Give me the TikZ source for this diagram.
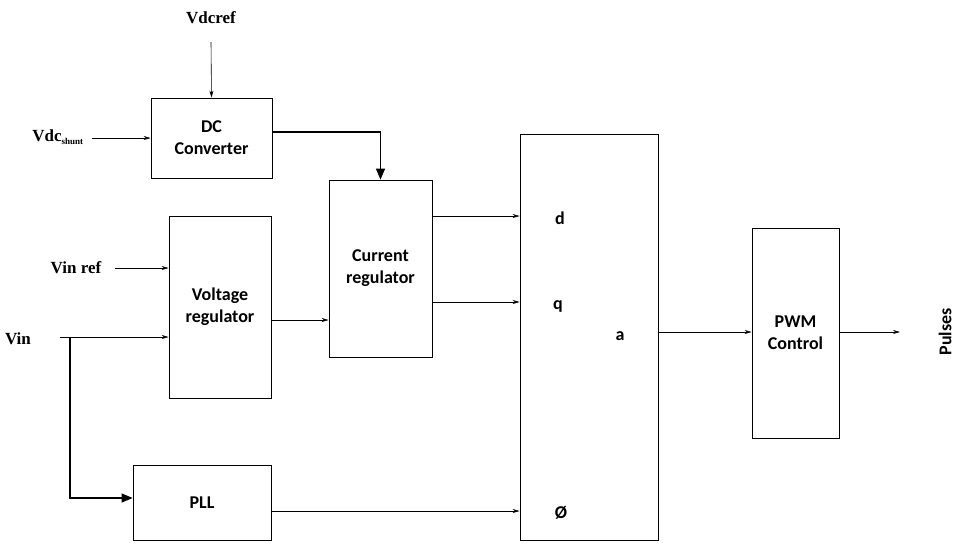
\documentclass[tikz,border=0pt]{standalone}
\usepackage{fontspec}
\setmainfont{Liberation Serif}
\newfontfamily\boxfont{Carlito}
\usetikzlibrary{arrows.meta}
\begin{document}
\begin{tikzpicture}[x=1pt, y=-1pt,
    blk/.style={draw, line width=0.8pt, inner sep=0pt},
    btxt/.style={font=\boxfont\bfseries\fontsize{18}{22}\selectfont, align=center},
    lbl/.style={font=\bfseries\fontsize{17}{19}\selectfont},
    arr/.style={-{Stealth[length=7pt,width=4pt]}, line width=0.6pt},
    thick arr/.style={-{Triangle[length=11pt,width=9pt]}, line width=1.3pt}]
    \useasboundingbox (0,0) rectangle (960,558);

    \node[blk, minimum width=121, minimum height=80] (dcc) at (211.5,138) {};
    \node[btxt] at (dcc) {DC\\Converter};
    \node[blk, minimum width=103, minimum height=177] (cur) at (380.5,268.5) {};
    \node[btxt] at (cur) {Current\\regulator};
    \node[blk, minimum width=102, minimum height=182] (vol) at (220,307) {};
    \node[btxt] at (vol) {Voltage\\regulator};
    \node[blk, minimum width=138, minimum height=75] (pll) at (202,502.5) {};
    \node[btxt] at (pll) {PLL};
    \node[blk, minimum width=138, minimum height=406] (dq) at (589,337) {};
    \node[blk, minimum width=87, minimum height=210] (pwm) at (795.5,333) {};
    \node[btxt] at (pwm) {PWM\\Control};

    \node[btxt] (d) at (560,218) {d};
    \node[btxt] (q) at (558,306) {q};
    \node[btxt] (a) at (620,336) {a};
    \node[btxt] (phi) at (561,513) {Ø};

    \node[lbl] (vdcref) at (211,18) {Vdcref};
    \node[lbl] (vdcsh) at (58,137) {Vdc\textsubscript{\fontsize{9}{10}\selectfont shunt}};
    \node[lbl] (vinref) at (76,268) {Vin ref};
    \node[lbl] (vin) at (18,339) {Vin};
    \node[btxt, rotate=90] (pulses) at (945,332) {Pulses};

    \coordinate (vdcrefs) at (211,42);
    \coordinate (vdcshs) at (92,138);
    \coordinate (vinrefs) at (115,268);
    \coordinate (vins) at (60,337);
    \coordinate (br) at (70,337);
    \coordinate (pulsee) at (900,332);

    \draw[arr] (vdcrefs) -- (dcc.north);
    \draw[arr] (vdcshs) -- (dcc.west);
    \draw[thick arr] (dcc.east |- 0,132) -| (cur.north);
    \draw[arr] (vinrefs) -- (vol.west |- vinrefs);
    \draw[arr] (vins) -- (vol.west |- vins);
    \draw[thick arr] (br) |- (pll.west |- 0,498);
    \draw[arr] (vol.east |- 0,320) -- (cur.west |- 0,320);
    \draw[arr] (cur.east |- 0,216) -- (dq.west |- 0,216);
    \draw[arr] (cur.east |- 0,302) -- (dq.west |- 0,302);
    \draw[arr] (pll.east |- 0,511) -- (dq.west |- 0,511);
    \draw[arr] (dq.east |- 0,332) -- (pwm.west |- 0,332);
    \draw[arr] (pwm.east |- 0,332) -- (pulsee);
\end{tikzpicture}
\end{document}
